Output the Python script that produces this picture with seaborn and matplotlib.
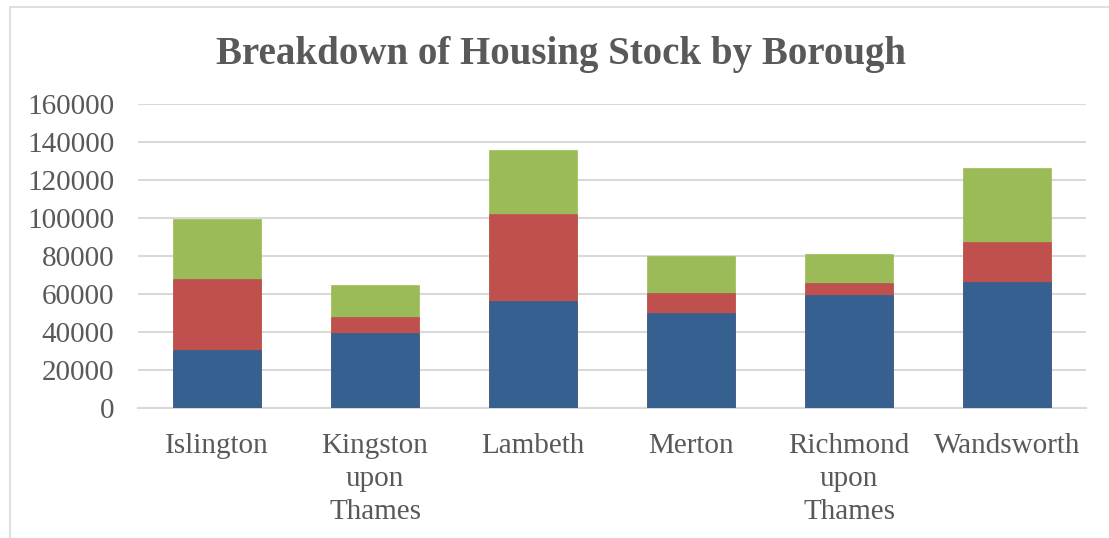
import matplotlib
matplotlib.use("Agg")
import matplotlib.pyplot as plt
import seaborn as sns
import pandas as pd
import numpy as np
from matplotlib.patches import Rectangle

boroughs = ["Islington", "Kingston\nupon\nThames", "Lambeth", "Merton",
            "Richmond\nupon\nThames", "Wandsworth"]
series_1 = [30400, 39700, 56500, 49800, 59700, 66500]
series_2 = [37300, 8200, 45800, 10700, 6300, 21000]
series_3 = [31600, 17000, 33500, 19500, 15200, 38600]
yticks = [0, 20000, 40000, 60000, 80000, 100000, 120000, 140000, 160000]

colors = ["#36608F", "#C0504D", "#9BBB59"]

df = pd.DataFrame({"borough": boroughs, "s1": series_1, "s2": series_2, "s3": series_3})
df["c1"] = df["s1"]
df["c2"] = df["s1"] + df["s2"]
df["c3"] = df["c2"] + df["s3"]

sns.set_style("white")
plt.rcParams["font.family"] = ["Liberation Serif", "DejaVu Serif"]

fig = plt.figure(figsize=(11.09, 5.38), dpi=100)
W, H = 1109, 538
ax = fig.add_axes([138 / W, (H - 408) / H, (1086 - 138) / W, (408 - 104) / H])

for col, c in zip(["c3", "c2", "c1"], colors[::-1]):
    sns.barplot(data=df, x="borough", y=col, color=c, width=0.56, ax=ax,
                saturation=1, edgecolor=c, linewidth=0.5, zorder=3)

ax.set_ylim(0, 160000)
ax.set_xlim(-0.5, 5.5)
ax.set_yticks(yticks)
ax.set_yticklabels([str(v) for v in yticks])
ax.yaxis.grid(True, color="#d9d9d9", linewidth=1.5, zorder=0)
ax.set_axisbelow(True)
for s in ["top", "right", "left"]:
    ax.spines[s].set_visible(False)
ax.spines["bottom"].set_color("#d9d9d9")
ax.spines["bottom"].set_linewidth(1.5)
ax.tick_params(axis="both", length=0, labelsize=21, colors="#595959")
ax.tick_params(axis="y", pad=17)
ax.tick_params(axis="x", pad=18)
for t in ax.get_xticklabels():
    t.set_linespacing(1.34)
ax.set_xlabel("")
ax.set_ylabel("")

fig.text(561 / W, 1 - 64 / H, "Breakdown of Housing Stock by Borough",
         ha="center", va="baseline", fontsize=28, fontweight="bold", color="#595959")

fig.patches.append(Rectangle((10 / W, -0.1), 1.2, 1.1 - 7 / H, transform=fig.transFigure,
                             fill=False, edgecolor="#d9d9d9", linewidth=1.2))

fig.savefig("out.png", dpi=100, facecolor="white")
